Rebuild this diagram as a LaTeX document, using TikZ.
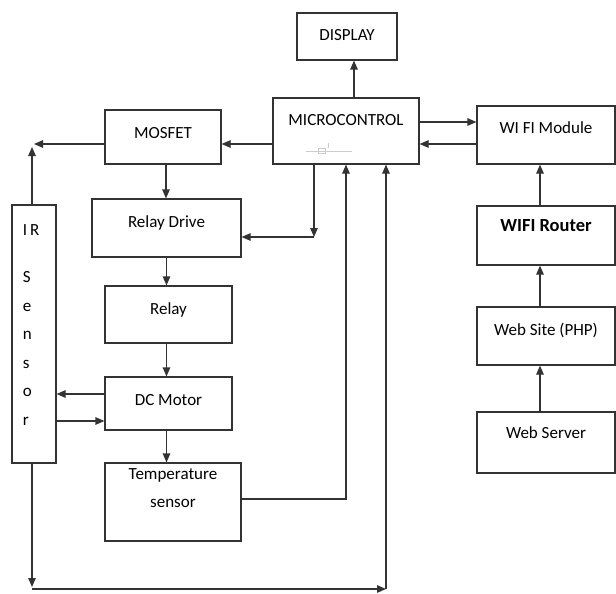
\documentclass[tikz,border=0pt]{standalone}
\usepackage{fontspec}
\setmainfont{Carlito}
\usetikzlibrary{arrows.meta}

\tikzset{
  blk/.style={draw=black!80, line width=1.2pt, inner sep=0pt, text=black,
    font=\fontsize{17}{20}\selectfont, text height=11pt},
  wire/.style={draw=black!80, line width=1.2pt},
}

\begin{document}
\begin{tikzpicture}[x=1pt, y=-1pt, >={Triangle[length=9pt,width=7.5pt]}]
    \path[use as bounding box, fill=white] (0,0) rectangle (616,594);

    % controller in the middle, display on top
    \node(micro)[blk, minimum width=146pt, minimum height=66pt, text depth=22pt] at (346,131) {MICROCONTROL};
    \draw[black!20, line width=0.5pt] (306,151) -- (352,151) (318,148) rectangle (325,153) (328,143) -- (328,148);
    \node(display)[blk, minimum width=100pt, minimum height=47pt, text depth=3pt] at (347,36.5) {DISPLAY};

    % web side
    \node(wifimod)[blk, minimum width=138pt, minimum height=58pt, text depth=14pt] at (546,135) {WI FI Module};
    \node(router)[blk, minimum width=138pt, minimum height=59pt, text depth=19pt,
      font=\fontsize{18.5}{22}\selectfont\bfseries] at (546,235.5) {WIFI Router};
    \node(website)[blk, minimum width=138pt, minimum height=58pt, text depth=12pt] at (546,336) {Web Site (PHP)};
    \node(server)[blk, minimum width=138pt, minimum height=61pt, text depth=20pt] at (546,442.5) {Web Server};

    % motor chain
    \node(mosfet)[blk, minimum width=116pt, minimum height=54pt, text depth=8pt] at (163,137) {MOSFET};
    \node(relaydrv)[blk, minimum width=149pt, minimum height=58pt, text depth=12pt] at (166.5,228) {Relay Drive};
    \node(relay)[blk, minimum width=127pt, minimum height=57pt, text depth=11pt] at (168.5,314.5) {Relay};
    \node(motor)[blk, minimum width=127pt, minimum height=53pt, text depth=7pt] at (168.5,403.5) {DC Motor};
    \node(tempsens)[blk, minimum width=136pt, minimum height=78pt, align=center,
      font=\fontsize{17}{28}\selectfont] at (173,502) {Temperature\\sensor};
    \node(irsens)[blk, minimum width=44pt, minimum height=258pt, text width=22pt, align=left,
      font=\fontsize{17}{28.5}\selectfont, text depth=208pt] at (34,334) {I\,R\\[18.5pt]S\\e\\n\\s\\o\\r};

    \coordinate (irtap) at (32,144);
    \coordinate (drvturn) at (314,237);
    \coordinate (botleft) at (32,589);
    \coordinate (botright) at (386,589);

    \draw[wire,->] ([xshift=8pt]micro.north) -- ([xshift=8pt]micro.north |- display.south);
    \draw[wire,->] ([yshift=9pt]micro.east) -- ([yshift=9pt]micro.east -| wifimod.west);
    \draw[wire,->] ([yshift=-13pt]micro.east -| wifimod.west) -- ([yshift=-13pt]micro.east);
    \draw[wire,->] ([xshift=-6pt]router.north) -- ([xshift=-6pt]wifimod.south);
    \draw[wire,->] ([xshift=-6pt]website.north) -- ([xshift=-6pt]router.south);
    \draw[wire,->] ([xshift=-6pt]server.north) -- ([xshift=-6pt]website.south);

    \draw[wire,->] ([yshift=-13pt]micro.west) -- ([yshift=-13pt]micro.west -| mosfet.east);
    \draw[wire,->] ([yshift=-7pt]mosfet.west) -- ([xshift=2pt]irtap);
    \draw[wire,->] ([xshift=-2pt]irsens.north) -- ([yshift=-3pt]irtap);
    \draw[wire,->] ([xshift=3pt]mosfet.south) -- ([xshift=3pt]mosfet.south |- relaydrv.north);
    \draw[wire,->] (micro.south -| drvturn) -- (drvturn);
    \draw[wire,->] (drvturn) -- (drvturn -| relaydrv.east);
    \draw[wire,->] (relaydrv.south) -- (relaydrv.south |- relay.north);
    \draw[wire,->] (relaydrv |- relay.south) -- (relaydrv |- motor.north);
    \draw[wire,->] (relaydrv |- motor.south) -- (relaydrv |- tempsens.north);
    \draw[wire,->] ([yshift=9.5pt]motor.west) -- ([yshift=9.5pt]motor.west -| irsens.east);
    \draw[wire,->] ([yshift=-17.5pt]motor.west -| irsens.east) -- ([yshift=-17.5pt]motor.west);
    \draw[wire,->] ([yshift=3pt]tempsens.east) -| (micro.south);

    % sensor loop along the bottom
    \draw[wire,->] ([xshift=-2pt]irsens.south) -- ([yshift=2pt]botleft);
    \draw[wire,->] (botleft) -- (botright);
    \draw[wire,->] (botright) -- (botright |- micro.south);
\end{tikzpicture}
\end{document}
